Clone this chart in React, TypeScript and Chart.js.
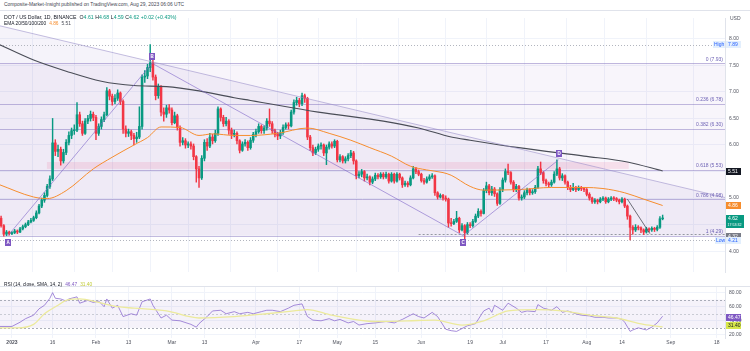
import { useEffect, useRef } from 'react';
import { Chart, registerables } from 'chart.js';

Chart.register(...registerables);

const FONT = "'Liberation Sans', Arial, sans-serif";
const GREEN = '#089981';
const RED = '#f23645';
const ORANGE = '#f68d2e';
const PURPLE = '#7e57c2';

// ---------- data ----------
const firstDay = -4; // Dec 28 2022 (day 0 = Jan 1 2023)
const firstOpen = 4.62;
const closes = [
  4.48, 4.32, 4.36, 4.33, 4.35, 4.38, 4.36, 4.42, 4.46, 4.50,
  4.55, 4.58, 4.63, 4.72, 4.85, 4.96, 5.05, 5.22, 5.36, 6.04,
  5.88, 5.92, 5.70, 5.86, 6.05, 6.18, 6.27, 6.28, 6.57, 6.40,
  6.22, 6.45, 6.50, 6.58, 6.52, 6.22, 6.35, 6.48, 6.57, 7.02,
  6.92, 6.82, 6.88, 6.98, 6.82, 6.30, 6.22, 6.25, 6.18, 6.12,
  6.15, 6.35, 7.28, 7.30, 7.46, 7.55, 7.28, 6.93, 7.10, 6.62,
  6.58, 6.70, 6.66, 6.42, 6.55, 6.33, 6.05, 6.08, 6.00, 6.02,
  5.98, 5.78, 5.55, 5.38, 5.75, 6.05, 5.98, 6.15, 6.08, 6.22,
  6.68, 6.52, 6.40, 6.45, 6.28, 6.20, 6.22, 6.08, 5.90, 6.02,
  6.05, 5.95, 6.09, 6.20, 6.25, 6.35, 6.27, 6.32, 6.45, 6.40,
  6.27, 6.20, 6.17, 6.23, 6.33, 6.38, 6.36, 6.62, 6.80, 6.84,
  6.78, 6.93, 6.88, 6.15, 5.95, 5.85, 5.92, 5.98, 6.00, 5.85,
  5.96, 6.02, 5.98, 6.07, 5.72, 5.78, 5.70, 5.74, 5.80, 5.85,
  5.70, 5.42, 5.45, 5.50, 5.38, 5.40, 5.30, 5.36, 5.43, 5.40,
  5.45, 5.40, 5.45, 5.32, 5.45, 5.32, 5.45, 5.38, 5.25, 5.28,
  5.25, 5.38, 5.55, 5.50, 5.45, 5.33, 5.30, 5.36, 5.40, 5.42,
  5.10, 5.02, 5.05, 5.00, 4.98, 4.53, 4.52, 4.56, 4.62, 4.40,
  4.48, 4.35, 4.50, 4.48, 4.56, 4.66, 4.75, 4.71, 5.14, 5.23,
  5.10, 5.17, 5.08, 4.90, 5.16, 5.34, 5.50, 5.48, 5.30, 5.16,
  5.22, 5.00, 5.02, 5.10, 5.16, 5.10, 5.12, 5.20, 5.55, 5.48,
  5.33, 5.27, 5.25, 5.30, 5.45, 5.55, 5.38, 5.42, 5.30, 5.20,
  5.16, 5.20, 5.16, 5.20, 5.18, 5.16, 5.07, 5.00, 4.93, 4.96,
  4.93, 4.98, 5.00, 4.93, 4.98, 5.00, 4.99, 4.96, 4.93, 4.98,
  4.85, 4.66, 4.45, 4.40, 4.45, 4.44, 4.40, 4.36, 4.42, 4.40,
  4.43, 4.41, 4.45, 4.61, 4.62,
];
const highs = [
  4.66, 4.50, 4.39, 4.38, 4.37, 4.41, 4.40, 4.45, 4.49, 4.53,
  4.58, 4.62, 4.66, 4.76, 4.88, 5.00, 5.10, 5.26, 5.42, 6.50,
  6.10, 6.00, 5.96, 5.92, 6.10, 6.25, 6.32, 6.38, 6.80, 6.62,
  6.45, 6.50, 6.56, 6.64, 6.62, 6.56, 6.40, 6.53, 6.62, 7.08,
  7.05, 6.96, 6.95, 7.04, 7.00, 6.85, 6.36, 6.30, 6.28, 6.22,
  6.24, 6.72, 7.32, 7.40, 7.52, 7.89, 7.60, 7.32, 7.15, 7.12,
  6.70, 6.75, 6.76, 6.70, 6.62, 6.58, 6.36, 6.14, 6.12, 6.06,
  6.06, 6.02, 5.80, 5.60, 5.80, 6.10, 6.12, 6.22, 6.20, 6.28,
  6.72, 6.70, 6.56, 6.52, 6.48, 6.32, 6.28, 6.25, 6.10, 6.06,
  6.10, 6.08, 6.14, 6.24, 6.30, 6.40, 6.38, 6.36, 6.50, 6.68,
  6.44, 6.30, 6.24, 6.28, 6.38, 6.42, 6.42, 6.66, 6.85, 6.90,
  6.88, 6.98, 6.96, 6.90, 6.18, 6.00, 5.96, 6.02, 6.04, 6.02,
  6.00, 6.06, 6.06, 6.10, 6.09, 5.82, 5.80, 5.78, 5.84, 5.90,
  5.88, 5.72, 5.50, 5.54, 5.52, 5.45, 5.42, 5.40, 5.47, 5.46,
  5.48, 5.48, 5.49, 5.47, 5.48, 5.47, 5.48, 5.47, 5.40, 5.32,
  5.31, 5.42, 5.60, 5.58, 5.53, 5.47, 5.37, 5.40, 5.44, 5.46,
  5.44, 5.12, 5.08, 5.07, 5.04, 5.00, 4.62, 4.60, 4.75, 4.64,
  4.52, 4.50, 4.54, 4.54, 4.60, 4.70, 4.80, 4.78, 5.18, 5.30,
  5.26, 5.22, 5.20, 5.10, 5.20, 5.38, 5.55, 5.64, 5.50, 5.33,
  5.26, 5.24, 5.06, 5.14, 5.19, 5.18, 5.16, 5.24, 5.60, 5.68,
  5.50, 5.36, 5.30, 5.34, 5.50, 5.72, 5.58, 5.46, 5.44, 5.32,
  5.24, 5.28, 5.22, 5.23, 5.22, 5.20, 5.18, 5.10, 5.02, 4.99,
  4.98, 5.01, 5.03, 5.02, 5.01, 5.03, 5.03, 5.01, 4.98, 5.01,
  5.00, 4.87, 4.68, 4.48, 4.50, 4.48, 4.46, 4.42, 4.45, 4.44,
  4.46, 4.45, 4.48, 4.65, 4.68,
];
const lows = [
  4.45, 4.28, 4.29, 4.30, 4.31, 4.33, 4.33, 4.35, 4.40, 4.44,
  4.48, 4.53, 4.56, 4.61, 4.70, 4.82, 4.92, 5.02, 5.18, 5.33,
  5.80, 5.78, 5.62, 5.66, 5.82, 6.00, 6.12, 6.20, 6.25, 6.35,
  6.18, 6.20, 6.40, 6.45, 6.46, 6.10, 6.18, 6.30, 6.44, 6.55,
  6.85, 6.75, 6.78, 6.84, 6.76, 6.22, 6.15, 6.16, 6.10, 6.00,
  6.05, 6.12, 6.30, 7.18, 7.25, 7.38, 7.22, 6.85, 6.88, 6.55,
  6.45, 6.52, 6.60, 6.38, 6.40, 6.28, 5.98, 6.00, 5.94, 5.95,
  5.92, 5.72, 5.30, 5.20, 5.35, 5.70, 5.90, 5.95, 6.02, 6.05,
  6.18, 6.45, 6.35, 6.36, 6.20, 6.12, 6.15, 6.02, 5.85, 5.88,
  5.98, 5.90, 5.92, 6.05, 6.15, 6.22, 6.22, 6.22, 6.28, 6.35,
  6.22, 6.15, 6.10, 6.12, 6.20, 6.30, 6.30, 6.34, 6.58, 6.75,
  6.72, 6.74, 6.80, 6.10, 5.90, 5.80, 5.82, 5.88, 5.92, 5.80,
  5.63, 5.92, 5.94, 5.95, 5.68, 5.68, 5.66, 5.66, 5.70, 5.76,
  5.64, 5.36, 5.38, 5.40, 5.32, 5.34, 5.25, 5.27, 5.33, 5.36,
  5.37, 5.36, 5.37, 5.28, 5.30, 5.28, 5.30, 5.34, 5.20, 5.22,
  5.21, 5.23, 5.36, 5.46, 5.42, 5.30, 5.26, 5.28, 5.33, 5.37,
  5.05, 4.98, 5.00, 4.96, 4.94, 4.45, 4.47, 4.50, 4.54, 4.35,
  4.38, 4.22, 4.33, 4.44, 4.45, 4.54, 4.63, 4.66, 4.70, 5.10,
  5.06, 5.05, 5.03, 4.86, 4.88, 5.12, 5.30, 5.44, 5.26, 5.12,
  5.12, 4.96, 4.96, 4.99, 5.06, 5.06, 5.07, 5.09, 5.18, 5.44,
  5.28, 5.23, 5.20, 5.22, 5.28, 5.42, 5.34, 5.33, 5.26, 5.16,
  5.12, 5.14, 5.12, 5.14, 5.14, 5.12, 5.04, 4.96, 4.90, 4.90,
  4.89, 4.91, 4.95, 4.90, 4.91, 4.95, 4.95, 4.93, 4.89, 4.91,
  4.82, 4.60, 4.21, 4.32, 4.37, 4.40, 4.35, 4.31, 4.34, 4.36,
  4.37, 4.37, 4.38, 4.43, 4.59,
];

const ema50Days = [-5, 8, 13, 20, 30, 37, 45, 50, 55, 62, 69, 74, 82, 88, 98, 109, 117, 125, 132, 140, 147, 153, 159, 162, 169, 174, 187, 199, 211, 218, 226, 233, 240];
const ema50Vals = [5.26, 5.02, 4.99, 5.14, 5.55, 5.77, 6.0, 6.14, 6.34, 6.33, 6.18, 6.21, 6.18, 6.18, 6.22, 6.32, 6.22, 6.09, 5.95, 5.79, 5.6, 5.53, 5.48, 5.43, 5.22, 5.15, 5.16, 5.2, 5.2, 5.18, 5.1, 4.98, 4.86];
const ema200Days = [-5, 8, 20, 33, 45, 57, 69, 82, 88, 113, 137, 150, 162, 169, 187, 211, 227, 240];
const ema200Vals = [7.9, 7.6, 7.39, 7.2, 7.12, 7.1, 7.02, 6.89, 6.84, 6.62, 6.45, 6.32, 6.15, 6.09, 5.95, 5.79, 5.68, 5.51];

const rsiDays = [-5, 0, 3, 5, 8, 10, 12, 14, 15, 16, 18, 20, 21, 24, 25, 28, 30, 32, 34, 35, 37, 39, 41, 44, 46, 48, 51, 52, 55, 57, 59, 62, 66, 68, 69, 72, 74, 77, 79, 82, 84, 87, 89, 92, 94, 96, 99, 102, 104, 107, 109, 111, 114, 117, 119, 121, 124, 126, 128, 131, 134, 138, 141, 144, 148, 150, 152, 155, 157, 160, 162, 164, 166, 168, 171, 174, 176, 177, 178, 181, 183, 186, 188, 190, 193, 194, 196, 199, 201, 203, 205, 208, 210, 213, 215, 218, 220, 223, 225, 226, 228, 229, 231, 234, 236, 238, 240];
const rsiVals = [32, 32, 38, 43, 48, 57, 62, 72, 80, 72, 71, 68, 71, 74, 65, 69, 66, 68, 60, 71, 58, 62, 46, 50, 48, 67, 71, 62, 44, 48, 41, 40, 35, 31, 36, 46, 54, 55, 50, 53, 50, 52, 50, 53, 55, 55, 53, 58, 62, 64, 46, 41, 40, 43, 40, 42, 37, 39, 34, 36, 37, 39, 37, 42, 50, 46, 44, 52, 46, 28, 26, 25, 29, 33, 36, 54, 58, 52, 62, 55, 65, 58, 52, 54, 53, 63, 58, 55, 60, 52, 54, 50, 48, 47, 45, 45, 44, 44, 42, 38, 25, 27, 30, 27, 31, 37, 46.47];
const rsiMaDays = [-5, 2, 8, 12, 17, 20, 25, 32, 39, 45, 57, 69, 82, 94, 104, 109, 118, 134, 146, 156, 166, 174, 183, 193, 203, 213, 223, 233, 240];
const rsiMaVals = [30, 30, 35, 50, 62, 69, 71, 66, 60, 58, 54, 44, 46, 50, 54, 56, 48, 39, 40, 41, 34, 40, 54, 56, 54, 48, 44, 35, 31.4];

const timeTickDays = [0, 15, 31, 43, 59, 71, 90, 106, 120, 134, 151, 169, 181, 197, 212, 225, 243, 260];
const timeTickLabels = ['2023', '16', 'Feb', '13', 'Mar', '13', 'Apr', '17', 'May', '15', 'Jun', '19', 'Jul', '17', 'Aug', '14', 'Sep', '18'];
const priceTicks = [4, 4.5, 5, 5.5, 6, 6.5, 7, 7.5, 8];
const rsiTicks = [20, 40, 60, 80];

const fibPrices = [7.54, 6.78, 6.30, 5.53, 4.98, 4.29];
const fibLabels = ['0 (7.93)', '0.236 (6.78)', '0.382 (6.30)', '0.618 (5.53)', '0.786 (4.98)', '1 (4.29)'];
const abcdDays = [-1.5, 51.7, 166.5, 201.6];
const abcdPrices = [4.29, 7.54, 4.29, 5.72];
const abcdNames = ['A', 'B', 'C', 'D'];
const triDays = [-4.4, 263];
const triTop = [8.245, 5.01];
const triBottom = 4.29;
const zoneDays = [12.9, 227.5];
const zonePrices = [5.68, 5.55];
const trendDays = [227, 235.3];
const trendPrices = [4.98, 4.33];
const supportStartDay = 150;
const supportPrice = 4.32;
const highPrice = 7.89;
const lowPrice = 4.21;
const lastClose = 4.62;
const ema50Last = 4.86;
const ema200Last = 5.51;
const rsiLast = 46.47;
const rsiMaLast = 31.4;

const X_MIN = -4.4;
const X_MAX = 263;

// ---------- helpers ----------
function axisBox(ctx: any, x: number, yc: number, w: number, h: number, bg: string, fg: string, text: string) {
  ctx.fillStyle = bg;
  ctx.fillRect(x, Math.round(yc - h / 2), w, h);
  ctx.fillStyle = fg;
  ctx.font = `5px ${FONT}`;
  ctx.textAlign = 'left';
  ctx.textBaseline = 'middle';
  ctx.fillText(text, x + 2, Math.round(yc - h / 2) + h / 2 + 0.5);
}

function hline(ctx: any, x1: number, x2: number, y: number) {
  const yy = Math.round(y) + 0.5;
  ctx.beginPath();
  ctx.moveTo(x1, yy);
  ctx.lineTo(x2, yy);
  ctx.stroke();
}

const mainOverlay = {
  id: 'mainOverlay',
  beforeDatasetsDraw(chart: any) {
    const { ctx, chartArea: ca, scales } = chart;
    const X = (d: number) => scales.x.getPixelForValue(d);
    const Y = (p: number) => scales.y.getPixelForValue(p);
    ctx.save();
    ctx.beginPath();
    ctx.rect(ca.left, ca.top, ca.right - ca.left, ca.bottom - ca.top);
    ctx.clip();
    const yTop = Y(fibPrices[0]);
    const yBot = Y(fibPrices[fibPrices.length - 1]);
    ctx.fillStyle = 'rgba(149,117,205,0.07)';
    ctx.fillRect(ca.left, yTop, ca.right - ca.left, yBot - yTop);
    ctx.beginPath();
    ctx.moveTo(X(triDays[0]), Y(triTop[0]));
    ctx.lineTo(X(triDays[1]), Y(triTop[1]));
    ctx.lineTo(X(triDays[1]), Y(triBottom));
    ctx.lineTo(X(triDays[0]), Y(triBottom));
    ctx.closePath();
    ctx.fillStyle = 'rgba(149,117,205,0.09)';
    ctx.fill();
    ctx.fillStyle = 'rgba(233,30,99,0.10)';
    ctx.fillRect(X(zoneDays[0]), Y(zonePrices[0]), X(zoneDays[1]) - X(zoneDays[0]), Y(zonePrices[1]) - Y(zonePrices[0]));
    ctx.strokeStyle = 'rgba(120,105,185,0.45)';
    ctx.lineWidth = 1;
    fibPrices.forEach((p) => hline(ctx, ca.left, ca.right, Y(p)));
    ctx.strokeStyle = '#b2b5be';
    ctx.setLineDash([1, 2]);
    hline(ctx, ca.left, ca.right, Y(highPrice));
    hline(ctx, ca.left, ca.right, Y(lowPrice));
    ctx.strokeStyle = '#9598a1';
    ctx.setLineDash([2, 2]);
    hline(ctx, X(supportStartDay), ca.right, Y(supportPrice));
    ctx.setLineDash([]);
    ctx.restore();
  },
  afterDatasetsDraw(chart: any) {
    const { ctx, chartArea: ca, scales } = chart;
    const X = (d: number) => scales.x.getPixelForValue(d);
    const Y = (p: number) => scales.y.getPixelForValue(p);
    ctx.save();
    ctx.beginPath();
    ctx.rect(ca.left, ca.top, ca.right - ca.left, ca.bottom - ca.top);
    ctx.clip();
    ctx.strokeStyle = 'rgba(150,140,200,0.7)';
    ctx.lineWidth = 0.8;
    ctx.beginPath();
    ctx.moveTo(X(triDays[0]), Y(triTop[0]));
    ctx.lineTo(X(triDays[1]), Y(triTop[1]));
    ctx.stroke();
    ctx.strokeStyle = 'rgba(126,100,200,0.75)';
    ctx.lineWidth = 0.8;
    ctx.beginPath();
    abcdDays.forEach((d, i) => {
      if (i === 0) ctx.moveTo(X(d), Y(abcdPrices[i]));
      else ctx.lineTo(X(d), Y(abcdPrices[i]));
    });
    ctx.stroke();
    ctx.strokeStyle = '#4a4d57';
    ctx.lineWidth = 0.8;
    ctx.beginPath();
    ctx.moveTo(X(trendDays[0]), Y(trendPrices[0]));
    ctx.lineTo(X(trendDays[1]), Y(trendPrices[1]));
    ctx.stroke();
    ctx.fillStyle = '#6f63b5';
    ctx.font = `5px ${FONT}`;
    ctx.textAlign = 'right';
    ctx.textBaseline = 'bottom';
    fibPrices.forEach((p, i) => ctx.fillText(fibLabels[i], ca.right - 2, Y(p) - 1.5));
    abcdNames.forEach((n, i) => {
      const px = X(abcdDays[i]);
      const below = i === 0 || i === 2;
      const py = Y(abcdPrices[i]) + (below ? 6.5 : -6.5);
      ctx.fillStyle = PURPLE;
      ctx.fillRect(Math.round(px - 3), Math.round(py - 3.5), 6, 7);
      ctx.fillStyle = '#ffffff';
      ctx.font = `bold 4.5px ${FONT}`;
      ctx.textAlign = 'center';
      ctx.textBaseline = 'middle';
      ctx.fillText(n, Math.round(px - 3) + 3, Math.round(py - 3.5) + 3.7);
    });
    ctx.restore();
  },
  afterDraw(chart: any) {
    const { ctx, chartArea: ca, scales } = chart;
    const Y = (p: number) => scales.y.getPixelForValue(p);
    const bx = ca.right + 1;
    ctx.save();
    ctx.fillStyle = '#50535e';
    ctx.font = `5px ${FONT}`;
    ctx.textAlign = 'left';
    ctx.textBaseline = 'middle';
    ctx.fillText('USD', bx + 4, 8);
    ctx.fillStyle = '#e3effd';
    ctx.fillRect(ca.right - 12, Math.round(Y(highPrice) - 3.5), 12, 7);
    ctx.fillStyle = '#2962ff';
    ctx.fillText('High', ca.right - 11, Math.round(Y(highPrice) - 3.5) + 4);
    axisBox(ctx, bx, Y(highPrice), 15, 7, '#e3effd', '#2962ff', highPrice.toFixed(2));
    axisBox(ctx, bx, Y(ema200Last), 15, 7, '#131722', '#ffffff', ema200Last.toFixed(2));
    axisBox(ctx, bx, Y(ema50Last), 15, 7, ORANGE, '#ffffff', ema50Last.toFixed(2));
    const yl = Y(lastClose);
    ctx.fillStyle = GREEN;
    ctx.fillRect(bx, Math.round(yl - 3.5), 18, 13);
    ctx.fillStyle = '#ffffff';
    ctx.font = `5px ${FONT}`;
    ctx.fillText(lastClose.toFixed(2), bx + 2, Math.round(yl - 3.5) + 4);
    ctx.font = `3.6px ${FONT}`;
    ctx.fillText('17:53:32', bx + 1.5, Math.round(yl - 3.5) + 9.5);
    axisBox(ctx, bx, Y(supportPrice) + 2, 15, 7, '#787b86', '#ffffff', supportPrice.toFixed(2));
    ctx.fillStyle = '#e3effd';
    ctx.fillRect(ca.right - 10, Math.round(Y(lowPrice) - 3.5), 10, 7);
    ctx.fillStyle = '#2962ff';
    ctx.font = `5px ${FONT}`;
    ctx.fillText('Low', ca.right - 9, Math.round(Y(lowPrice) - 3.5) + 4);
    axisBox(ctx, bx, Y(lowPrice), 15, 7, '#e3effd', '#2962ff', lowPrice.toFixed(2));
    ctx.restore();
  },
};

const rsiOverlay = {
  id: 'rsiOverlay',
  beforeDatasetsDraw(chart: any) {
    const { ctx, chartArea: ca, scales } = chart;
    const Y = (v: number) => scales.y.getPixelForValue(v);
    ctx.save();
    ctx.fillStyle = 'rgba(126,87,194,0.08)';
    ctx.fillRect(ca.left, Y(70), ca.right - ca.left, Y(30) - Y(70));
    ctx.strokeStyle = '#a9acb8';
    ctx.lineWidth = 1;
    ctx.setLineDash([2, 2]);
    hline(ctx, ca.left, ca.right, Y(70));
    hline(ctx, ca.left, ca.right, Y(30));
    ctx.strokeStyle = '#c9cbd4';
    hline(ctx, ca.left, ca.right, Y(50));
    ctx.setLineDash([]);
    ctx.restore();
  },
  afterDraw(chart: any) {
    const { ctx, chartArea: ca, scales } = chart;
    const Y = (v: number) => scales.y.getPixelForValue(v);
    ctx.save();
    ctx.strokeStyle = '#e0e3eb';
    ctx.lineWidth = 1;
    hline(ctx, 0, chart.width, ca.top);
    axisBox(ctx, ca.right + 1, Y(rsiLast) + 1, 15, 7, PURPLE, '#ffffff', rsiLast.toFixed(2));
    axisBox(ctx, ca.right + 1, Y(rsiMaLast) - 1, 15, 7, '#d7e64a', '#131722', rsiMaLast.toFixed(2));
    ctx.restore();
  },
};

function xScale(showLabels: boolean) {
  return {
    type: 'linear',
    min: X_MIN,
    max: X_MAX,
    offset: false,
    afterBuildTicks: (axis: any) => {
      axis.ticks = timeTickDays.map((v) => ({ value: v }));
    },
    afterFit: (s: any) => {
      s.height = showLabels ? 13 : 0;
    },
    ticks: {
      display: showLabels,
      autoSkip: false,
      maxRotation: 0,
      padding: 2,
      color: '#50535e',
      font: (c: any) => ({ size: 5, family: FONT, weight: c.index === 0 ? 'bold' : 'normal' }),
      callback: (_v: any, i: number) => timeTickLabels[i],
    },
    grid: { color: '#f0f3fa', drawTicks: false },
    border: { display: false },
  };
}

export default function App() {
  const mainRef = useRef<HTMLCanvasElement>(null);
  const rsiRef = useRef<HTMLCanvasElement>(null);

  useEffect(() => {
    const opens = closes.map((c, i) => (i === 0 ? firstOpen : closes[i - 1]));
    const days = closes.map((_, i) => firstDay + i);
    const colors = closes.map((c, i) => (c >= opens[i] ? GREEN : RED));
    const wickData = days.map((d, i) => ({ x: d, y: [lows[i], highs[i]] }));
    const bodyData = days.map((d, i) => ({ x: d, y: [opens[i], closes[i]] }));

    const main = new Chart(mainRef.current as HTMLCanvasElement, {
      type: 'bar',
      data: {
        datasets: [
          { type: 'bar', data: wickData as any, backgroundColor: colors, barThickness: 0.8, grouped: false, order: 3 } as any,
          { type: 'bar', data: bodyData as any, backgroundColor: colors, barThickness: 1.9, grouped: false, minBarLength: 0.8, order: 2 } as any,
          { type: 'line', data: ema50Days.map((d, i) => ({ x: d, y: ema50Vals[i] })), borderColor: ORANGE, borderWidth: 1, pointRadius: 0, cubicInterpolationMode: 'monotone', order: 1 } as any,
          { type: 'line', data: ema200Days.map((d, i) => ({ x: d, y: ema200Vals[i] })), borderColor: '#4a4d57', borderWidth: 1.1, pointRadius: 0, cubicInterpolationMode: 'monotone', order: 0 } as any,
        ],
      },
      options: {
        animation: false,
        responsive: false,
        maintainAspectRatio: false,
        layout: { padding: 0 },
        plugins: { legend: { display: false }, tooltip: { enabled: false } },
        scales: {
          x: xScale(false) as any,
          y: {
            position: 'right',
            min: 3.6071,
            max: 8.3929,
            afterBuildTicks: (axis: any) => {
              axis.ticks = priceTicks.map((v) => ({ value: v }));
            },
            afterFit: (s: any) => {
              s.width = 25;
            },
            ticks: {
              padding: 4,
              color: '#50535e',
              font: { size: 5, family: FONT },
              callback: (v: any) => Number(v).toFixed(2),
            },
            grid: { color: '#f0f3fa', drawTicks: false },
            border: { display: true, color: '#e0e3eb' },
          } as any,
        },
      },
      plugins: [mainOverlay],
    } as any);

    const rsi = new Chart(rsiRef.current as HTMLCanvasElement, {
      type: 'line',
      data: {
        datasets: [
          { data: rsiMaDays.map((d, i) => ({ x: d, y: rsiMaVals[i] })), borderColor: '#ecea9c', borderWidth: 1.3, pointRadius: 0, cubicInterpolationMode: 'monotone' },
          { data: rsiDays.map((d, i) => ({ x: d, y: rsiVals[i] })), borderColor: '#8e6fd0', borderWidth: 0.8, pointRadius: 0, tension: 0 },
        ],
      },
      options: {
        animation: false,
        responsive: false,
        maintainAspectRatio: false,
        layout: { padding: 0 },
        plugins: { legend: { display: false }, tooltip: { enabled: false } },
        scales: {
          x: xScale(true) as any,
          y: {
            position: 'right',
            min: 15.6,
            max: 89.4,
            afterBuildTicks: (axis: any) => {
              axis.ticks = rsiTicks.map((v) => ({ value: v }));
            },
            afterFit: (s: any) => {
              s.width = 25;
            },
            ticks: {
              padding: 4,
              color: '#50535e',
              font: { size: 5, family: FONT },
              callback: (v: any) => Number(v).toFixed(2),
            },
            grid: { color: '#f0f3fa', drawTicks: false },
            border: { display: true, color: '#e0e3eb' },
          } as any,
        },
      },
      plugins: [rsiOverlay],
    } as any);

    return () => {
      main.destroy();
      rsi.destroy();
    };
  }, []);

  const small = { position: 'absolute' as const, whiteSpace: 'nowrap' as const, fontFamily: FONT, lineHeight: 1 };
  const gap = { marginLeft: 1.6 };

  return (
    <div style={{ position: 'fixed', left: 0, top: 0, width: 750, height: 351, background: '#ffffff', overflow: 'hidden' }}>
      <div style={{ ...small, left: 4, top: 3, fontSize: 4.9, color: '#434651' }}>
        Composite-Market-Insight published on TradingView.com, Aug 29, 2023 06:06 UTC
      </div>
      <div style={{ position: 'absolute', left: 0, top: 10, width: 750, height: 1, background: '#e0e3eb' }} />
      <canvas ref={mainRef} width={750} height={268} style={{ position: 'absolute', left: 0, top: 11 }} />
      <canvas ref={rsiRef} width={750} height={72} style={{ position: 'absolute', left: 0, top: 279 }} />
      <div style={{ ...small, left: 4, top: 14.5, fontSize: 5.2, color: '#131722' }}>
        DOT / US Dollar, 1D, BINANCE
        <span style={{ marginLeft: 3 }}>O</span><span style={{ color: GREEN }}>4.61</span>
        <span style={gap}>H</span><span style={{ color: GREEN }}>4.68</span>
        <span style={gap}>L</span><span style={{ color: GREEN }}>4.59</span>
        <span style={gap}>C</span><span style={{ color: GREEN }}>4.62</span>
        <span style={{ ...gap, color: GREEN }}>+0.02 (+0.43%)</span>
      </div>
      <div style={{ ...small, left: 4, top: 21.5, fontSize: 4.8, color: '#131722' }}>
        EMA 20/50/100/200<span style={{ marginLeft: 3, color: ORANGE }}>4.86</span><span style={{ marginLeft: 3, color: '#4a4d57' }}>5.51</span>
      </div>
      <div style={{ ...small, left: 4, top: 283, fontSize: 4.8, color: '#131722' }}>
        RSI (14, close, SMA, 14, 2)<span style={{ marginLeft: 3, color: PURPLE }}>46.47</span><span style={{ marginLeft: 3, color: '#c0ca33' }}>31.40</span>
      </div>
    </div>
  );
}
